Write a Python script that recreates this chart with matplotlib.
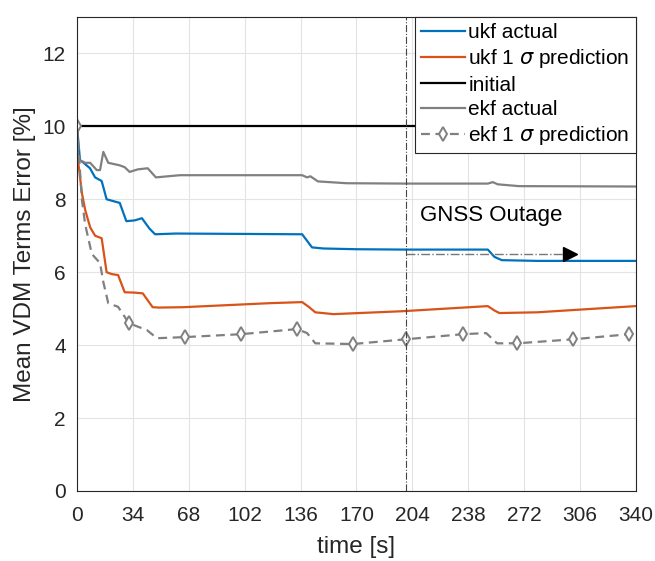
import numpy as np
import matplotlib.pyplot as plt

plt.rcParams['font.family'] = ['Liberation Sans', 'DejaVu Sans']

# ukf actual
ukf_t = [0, 1.8, 4, 7.9, 11, 15, 18, 22, 26, 30, 35, 39.5, 44, 47.5, 60, 100, 137,
         143, 150, 170, 200, 250, 254, 258.5, 280, 340]
ukf_v = [10, 9.07, 9.0, 8.85, 8.6, 8.5, 8.0, 7.95, 7.9, 7.4, 7.42, 7.48, 7.2, 7.04, 7.06, 7.05, 7.04,
         6.68, 6.65, 6.63, 6.62, 6.62, 6.42, 6.33, 6.31, 6.31]

# ukf 1 sigma prediction
ukfs_t = [0, 0.6, 3, 5, 8, 11, 15, 18, 21, 25, 29, 35, 40, 46, 50, 64.5, 117, 137,
          141, 145, 156, 198, 250, 254, 257, 280, 340]
ukfs_v = [10, 9.07, 8.16, 7.7, 7.23, 7.0, 6.93, 6.0, 5.95, 5.92, 5.45, 5.44, 5.42, 5.04, 5.03, 5.04, 5.15, 5.18,
          5.05, 4.9, 4.85, 4.93, 5.07, 4.95, 4.88, 4.9, 5.07]

# ekf actual
ekf_t = [0, 0.6, 5, 8, 12, 14, 16, 19, 26, 29, 32, 37, 43, 48, 62.6, 100, 137,
         140, 142, 146.6, 164, 200, 250, 253, 256, 269, 340]
ekf_v = [10, 9.1, 9.0, 9.0, 8.8, 8.8, 9.3, 9.0, 8.93, 8.88, 8.75, 8.82, 8.85, 8.6, 8.66, 8.66, 8.66,
         8.6, 8.63, 8.49, 8.44, 8.43, 8.43, 8.47, 8.41, 8.36, 8.35]

# ekf 1 sigma prediction
ekfs_t = [0, 3, 5, 9, 14, 16, 19, 25, 31.6, 42.6, 48.6, 65.7, 99.8, 133.8, 140,
          145, 167.9, 200, 234.8, 249, 255.6, 268, 302, 336, 340]
ekfs_v = [10, 7.97, 7.3, 6.5, 6.25, 5.73, 5.15, 5.05, 4.6, 4.41, 4.19, 4.22, 4.3, 4.44, 4.33,
          4.05, 4.03, 4.16, 4.3, 4.33, 4.05, 4.05, 4.16, 4.3, 4.31]
ekfs_mark_t = [0, 31.6, 65.7, 99.8, 133.8, 167.9, 200, 234.8, 268, 302, 336]

initial_t = [0, 340]
initial_v = [10, 10]

outage_start = 200
outage_end = 300
outage_y = 6.5

xticks = [0, 34, 68, 102, 136, 170, 204, 238, 272, 306, 340]
yticks = [0, 2, 4, 6, 8, 10, 12]

fig = plt.figure(figsize=(6.55, 5.61), dpi=100)
ax = fig.add_axes([0.1176, 0.1248, 0.853, 0.845])

blue = '#0072BD'
orange = '#D95319'
gray = '#808080'

ax.plot(ukf_t, ukf_v, color=blue, lw=1.6, label='ukf actual')
ax.plot(ukfs_t, ukfs_v, color=orange, lw=1.6, label=r'ukf 1 $\sigma$ prediction')
ax.plot(initial_t, initial_v, color='black', lw=1.6, label='initial')
ax.plot(ekf_t, ekf_v, color=gray, lw=1.6, label='ekf actual')
mark_idx = [ekfs_t.index(t) for t in ekfs_mark_t]
ax.plot(ekfs_t, ekfs_v, color=gray, lw=1.6, ls=(0, (4, 2.5)), marker='d', ms=7.5,
        mfc='white', mec=gray, mew=1.4, markevery=mark_idx, label=r'ekf 1 $\sigma$ prediction')

# GNSS outage marker
ax.axvline(outage_start, color='#444444', lw=0.8, ls='-.')
ax.plot([outage_start, outage_end - 3], [outage_y, outage_y], color='#777777', lw=1.0, ls='-.')
ax.plot([outage_end], [outage_y], marker='>', color='black', ms=10, ls='none')
ax.text(209, 7.4, 'GNSS Outage', fontsize=16)

ax.set_xlim(0, 340)
ax.set_ylim(0, 13)
ax.set_xticks(xticks)
ax.set_yticks(yticks)
ax.tick_params(labelsize=15, direction='in', length=0, colors='#262626')
ax.tick_params(axis='x', pad=11)
ax.tick_params(axis='y', pad=8)
ax.grid(True, color='#e3e3e3', lw=0.8)
ax.set_axisbelow(True)
for s in ax.spines.values():
    s.set_color('#262626')
    s.set_linewidth(0.8)

ax.set_xlabel('time [s]', fontsize=17.5, color='#262626', labelpad=8)
ax.set_ylabel('Mean VDM Terms Error [%]', fontsize=17.5, color='#262626', labelpad=5)

leg = ax.legend(loc='upper right', fontsize=15, handlelength=2.1, borderaxespad=0,
                fancybox=False, framealpha=1, edgecolor='#262626', labelspacing=0.25,
                handletextpad=0.15, borderpad=0.3)
leg.get_frame().set_linewidth(0.8)

fig.savefig('out.png', dpi=100)
